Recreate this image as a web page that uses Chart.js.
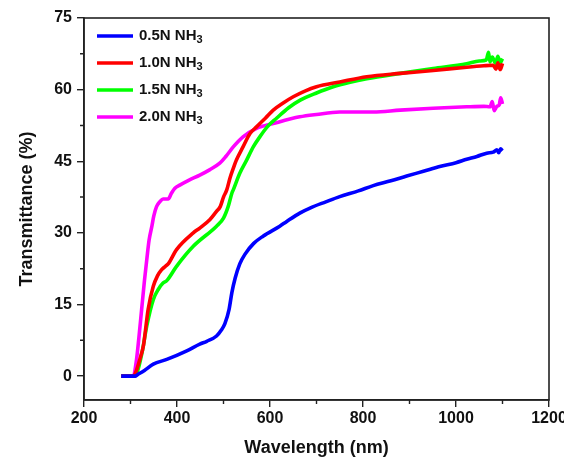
<!DOCTYPE html>
<html>
<head>
<meta charset="utf-8">
<script src="https://cdn.jsdelivr.net/npm/chart.js@4.4.0/dist/chart.umd.min.js"></script>
<style>
html,body{margin:0;padding:0;background:#fff;}
#wrap{width:564px;height:461px;position:relative;}
</style>
</head>
<body>
<div id="wrap"><canvas id="c"></canvas></div>
<script>
// ---- data ----
const seriesNames = ['0.5N NH', '1.0N NH', '1.5N NH', '2.0N NH'];
const seriesSub = '3';
const seriesColors = ['#0000FF', '#FF0000', '#00FF00', '#FF00FF'];

const wl05 = [280,310,315,330,349,378,421,449,464,485,495,503,512,518,525,535,546,565,585,621,636,665,686,720,750,790,822,860,894,930,965,1000,1023,1045,1066,1080,1088,1092,1096,1100];
const t05  = [0,0,0.3,1.2,2.5,3.5,5.3,6.7,7.3,8.4,9.6,11,14,17.5,20.5,23.5,25.5,27.8,29.3,31.4,32.4,34.2,35.2,36.5,37.6,38.8,39.9,40.9,41.9,42.9,43.9,44.7,45.4,46.0,46.7,46.9,47.4,46.8,47.6,47.2];

const wl10 = [280,306,312,320,328,338,349,358,367,375,381,399,435,449,471,485,493,500,507,514,521,528,542,557,571,590,607,630,650,675,700,750,808,880,951,1023,1060,1080,1086,1090,1095,1100];
const t10  = [0,0,1,3.5,6.5,14,18.8,21,22.3,23,23.5,26.5,30,31,32.8,34.5,35.5,37.5,39,41.5,43.5,45.3,48,50.8,52.2,54,55.7,57.3,58.5,59.7,60.6,61.6,62.7,63.4,64,64.7,65,65.1,64.3,65.6,64.2,65.5];

const wl15 = [280,308,315,325,335,349,360,370,378,399,435,485,500,510,518,521,535,550,564,578,595,614,640,665,700,736,770,808,880,951,1023,1050,1065,1070,1073,1078,1085,1090,1095,1100];
const t15  = [0,0,1,5,10.5,16,18.2,19.5,20,23,27.2,31.4,33.1,35.5,38.3,39,42.5,45.3,48,50.1,52.3,54,56.2,57.8,59.3,60.6,61.5,62.3,63.4,64.4,65.4,66,66.2,67.8,65.8,66.8,65.5,67,65.6,66.5];

const wl20 = [280,306,313,318,324,330,335,340,346,350,356,363,370,381,388,395,406,425,449,470,492,505,521,542,571,607,664,700,750,822,880,951,1023,1060,1073,1078,1082,1088,1093,1096,1100];
const t20  = [0,0,3.5,8,14,20,24.4,28.5,31.4,33.5,35.5,36.5,37.1,37.1,38.3,39.3,40,41,42.1,43.2,44.6,46,48,50.1,51.9,52.9,54.3,54.8,55.3,55.3,55.7,56.1,56.4,56.5,56.4,57.5,55.6,56.5,56.8,58.3,57];

const xTicks = [200,400,600,800,1000,1200];
const yTicks = [0,15,30,45,60,75];
const xMinor = [300,500,700,900,1100];
const yMinor = [7.5,22.5,37.5,52.5,67.5];
const xTitle = 'Wavelength (nm)';
const yTitle = 'Transmittance (%)';

// ---- build ----
const wls = [wl05, wl10, wl15, wl20];
const ts = [t05, t10, t15, t20];
const datasets = seriesNames.map((n, i) => ({
  label: n + '\u2083',
  data: wls[i].map((x, j) => ({x: x, y: ts[i][j]})),
  borderColor: seriesColors[i],
  backgroundColor: seriesColors[i],
  borderWidth: 3.6,
  pointRadius: 0,
  tension: 0.3,
  cubicInterpolationMode: 'monotone',
  fill: false
}));

const AXIS = '#222';
const FONT = '"Liberation Sans", Arial, sans-serif';

const framePlugin = {
  id: 'frame',
  afterDraw(chart) {
    const ctx = chart.ctx, a = chart.chartArea;
    const xs = chart.scales.x, ys = chart.scales.y;
    ctx.save();
    ctx.strokeStyle = AXIS;
    ctx.lineWidth = 1.6;
    ctx.strokeRect(a.left, a.top, a.right - a.left, a.bottom - a.top);
    ctx.lineWidth = 1.4;
    ctx.beginPath();
    xMinor.forEach(v => {
      const px = xs.getPixelForValue(v);
      ctx.moveTo(px, a.bottom); ctx.lineTo(px, a.bottom + 4);
    });
    yMinor.forEach(v => {
      const py = ys.getPixelForValue(v);
      ctx.moveTo(a.left, py); ctx.lineTo(a.left - 4, py);
    });
    ctx.stroke();
    // legend
    const lx0 = 97, lx1 = 133, tx = 139, rowY = [36, 63, 90, 117];
    seriesNames.forEach((n, i) => {
      const y = rowY[i];
      ctx.strokeStyle = seriesColors[i];
      ctx.lineWidth = 3.5;
      ctx.beginPath(); ctx.moveTo(lx0, y); ctx.lineTo(lx1, y); ctx.stroke();
      ctx.fillStyle = '#111';
      ctx.textBaseline = 'middle';
      ctx.textAlign = 'left';
      ctx.font = 'bold 15px ' + FONT;
      ctx.fillText(n, tx, y);
      const w = ctx.measureText(n).width;
      ctx.font = 'bold 11px ' + FONT;
      ctx.fillText(seriesSub, tx + w, y + 4);
    });
    ctx.restore();
  }
};

new Chart(document.getElementById('c'), {
  type: 'line',
  data: { datasets },
  options: {
    responsive: true,
    maintainAspectRatio: false,
    animation: false,
    layout: { padding: { left: 0, top: 18, right: 15, bottom: 0 } },
    plugins: { legend: { display: false }, tooltip: { enabled: false } },
    scales: {
      x: {
        type: 'linear', min: 200, max: 1200,
        afterBuildTicks: s => { s.ticks = xTicks.map(v => ({value: v})); },
        afterFit: s => { s.height = 61; s.paddingRight = 0; s.paddingLeft = 0; },
        grid: { drawOnChartArea: false, drawTicks: true, tickLength: 7, color: AXIS, lineWidth: 1.4 },
        border: { display: true, color: AXIS, width: 1.6 },
        ticks: { color: '#111', font: { family: FONT, size: 16, weight: 'bold' }, padding: 2, maxRotation: 0,
                 callback: v => String(v) },
        title: { display: true, text: xTitle, color: '#111', font: { family: FONT, size: 18, weight: 'bold' }, padding: { top: 0, bottom: 2 } }
      },
      y: {
        type: 'linear', min: -5, max: 75,
        afterBuildTicks: s => { s.ticks = yTicks.map(v => ({value: v})); },
        afterFit: s => { s.width = 84; s.paddingTop = 0; s.paddingBottom = 0; },
        grid: { drawOnChartArea: false, drawTicks: true, tickLength: 7, color: AXIS, lineWidth: 1.4 },
        border: { display: true, color: AXIS, width: 1.6 },
        ticks: { color: '#111', font: { family: FONT, size: 16, weight: 'bold' }, padding: 5,
                 callback: v => String(v) },
        title: { display: true, text: yTitle, color: '#111', font: { family: FONT, size: 18, weight: 'bold' }, padding: { top: 16, bottom: 0 } }
      }
    }
  },
  plugins: [framePlugin]
});
</script>
</body>
</html>
